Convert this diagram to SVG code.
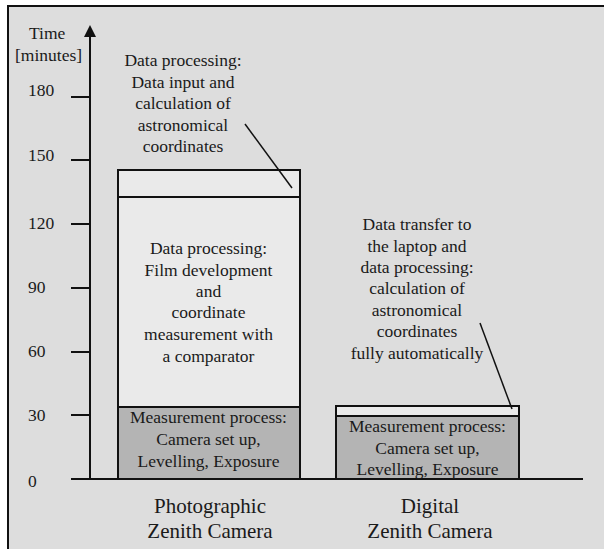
<svg xmlns="http://www.w3.org/2000/svg" width="604" height="549" viewBox="0 0 604 549">
<style>
text{font-family:"Liberation Serif","Times New Roman",serif;fill:#1a1a1a}
.t{font-size:17.5px;text-anchor:middle}
.ax{font-size:17.5px}
.big{font-size:21px;text-anchor:middle}
.ln{stroke:#111;stroke-width:2;fill:none}
.light{fill:#eaeaea;stroke:#111;stroke-width:2}
.dark{fill:#b4b4b4;stroke:#111;stroke-width:2}
</style>
<rect x="0" y="0" width="604" height="549" fill="#ffffff"/>
<rect x="8" y="6" width="596" height="543" fill="#dddddd"/>
<path d="M8 549V6H604" class="ln"/>
<g id="axis">
<line x1="90" y1="36" x2="90" y2="479" class="ln"/>
<polygon points="90,25 84,37 96,37" fill="#111"/>
<line x1="71" y1="479" x2="583" y2="479" class="ln"/>
<path d="M71 97H90M71 160H90M71 224H90M71 288H90M71 352H90M71 415H90" class="ln"/>
<text class="ax" x="29" y="39">Time</text>
<text class="ax" x="15" y="61">[minutes]</text>
<text class="ax" x="28" y="96">180</text>
<text class="ax" x="28" y="161">150</text>
<text class="ax" x="28" y="229">120</text>
<text class="ax" x="28" y="293">90</text>
<text class="ax" x="28" y="357">60</text>
<text class="ax" x="28" y="421">30</text>
<text class="ax" x="28" y="487">0</text>
</g>
<g id="photo-bar">
<rect x="118" y="170" width="182" height="27" class="light"/>
<rect x="118" y="197" width="182" height="210" class="light"/>
<rect x="118" y="407" width="182" height="72" class="dark"/>
<text class="t" x="208.5" y="254">Data processing:</text>
<text class="t" x="208.5" y="276">Film development</text>
<text class="t" x="208.5" y="297">and</text>
<text class="t" x="208.5" y="318">coordinate</text>
<text class="t" x="208.5" y="340">measurement with</text>
<text class="t" x="208.5" y="362">a comparator</text>
<text class="t" x="208.5" y="423">Measurement process:</text>
<text class="t" x="208.5" y="445">Camera set up,</text>
<text class="t" x="208.5" y="467">Levelling, Exposure</text>
<text class="big" x="210" y="513">Photographic</text>
<text class="big" x="210" y="538">Zenith Camera</text>
</g>
<g id="photo-note">
<text class="t" x="183" y="66">Data processing:</text>
<text class="t" x="183" y="87.5">Data input and</text>
<text class="t" x="183" y="109">calculation of</text>
<text class="t" x="183" y="130.5">astronomical</text>
<text class="t" x="183" y="152">coordinates</text>
</g>
<g id="digital-bar">
<rect x="336" y="406" width="183" height="10" class="light"/>
<rect x="336" y="416" width="183" height="63" class="dark"/>
<text class="t" x="427.5" y="432">Measurement process:</text>
<text class="t" x="427.5" y="454">Camera set up,</text>
<text class="t" x="427.5" y="475">Levelling, Exposure</text>
<text class="big" x="430" y="513">Digital</text>
<text class="big" x="430" y="538">Zenith Camera</text>
</g>
<g id="digital-note">
<text class="t" x="417" y="230">Data transfer to</text>
<text class="t" x="417" y="252">the laptop and</text>
<text class="t" x="417" y="273">data processing:</text>
<text class="t" x="417" y="294">calculation of</text>
<text class="t" x="417" y="316">astronomical</text>
<text class="t" x="417" y="337">coordinates</text>
<text class="t" x="417" y="359">fully automatically</text>
</g>
<g id="connectors">
<line x1="245" y1="124" x2="292" y2="188" stroke="#111" stroke-width="1.5"/>
<line x1="480" y1="323" x2="512" y2="409" stroke="#111" stroke-width="1.5"/>
</g>
</svg>
